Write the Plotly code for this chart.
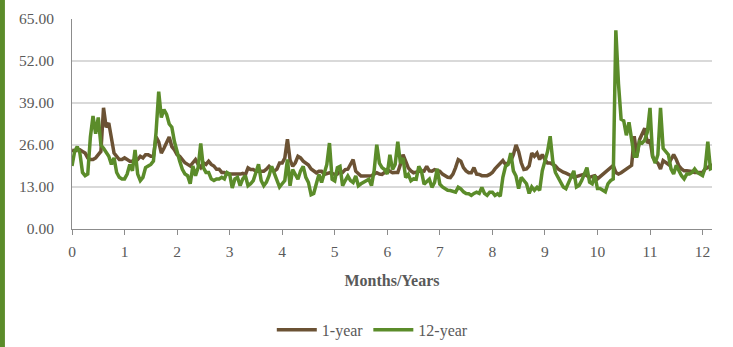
import numpy as np
import plotly.graph_objects as go

# Sampling step of the series (in years) and axis tick labels
STEP = 0.05
x_ticks = list(range(0, 13))
y_ticks = [0, 13, 26, 39, 52, 65]

# 1-year series, one row per year
one_year = [
    24.5, 24, 24.5, 24.5, 24, 23.5, 22, 21.5, 21.5, 22, 23, 24, 37.5, 31.5, 32.8, 28.7, 23.5, 22.5, 21.5, 21.5,
    22, 21.5, 21, 21, 21.5, 21.5, 22.5, 22, 23, 23, 22.5, 22.5, 28.5, 27, 23.5, 25, 27, 28.5, 25.5, 24.5,
    23, 22.5, 21.5, 20.5, 20, 19.5, 20.5, 21.5, 20, 19, 20.5, 20, 21, 20, 19.5, 18.5, 18.5, 17.5, 17.5, 17,
    17, 17, 16.8, 16.8, 17, 17.2, 16.8, 18.9, 18.4, 18.4, 17.9, 17.9, 18, 17.9, 18.5, 19.4, 18.5, 17.9, 18.5, 20.4,
    20.4, 22, 27.8, 21.4, 19.4, 20.5, 22.5, 22, 21, 20.4, 19.8, 18.6, 18, 17.4, 17.9, 17.9, 16.9, 17.2, 17.4, 17.2,
    16.9, 17, 17.9, 17.5, 18.4, 18.5, 19.9, 21.5, 17.9, 17, 16.4, 16.4, 16.4, 16.4, 16.5, 17, 17.4, 17, 16.9, 17.5,
    18.4, 17.9, 17.4, 17.5, 17.5, 20, 23, 21, 18.9, 18, 17.4, 17.6, 17.9, 18, 17.9, 19.4, 18, 17.9, 18.4, 18.2,
    17.9, 17, 16.4, 16, 15.9, 17, 19, 21.5, 21, 19, 18, 17.4, 17.4, 19, 17, 16.9, 16.5, 16.4, 16.5, 16.9,
    17.5, 18.6, 19.5, 20, 21.2, 20, 20.4, 21, 23, 26, 24, 20.5, 18.4, 18.6, 19.5, 23.5, 22.5, 23.5, 21.5, 23,
    21.5, 20.4, 20.4, 20, 19.5, 18.6, 18, 17.6, 17.3, 17, 16.5, 16, 16.2, 16.5, 16.8, 17, 16.5, 16, 16.3, 16.5,
    15.5, 16.2, 17, 17.8, 18.6, 19.2, 19.7, 17.5, 17, 17.4, 18, 18.6, 19.2, 19.7, 28.7, 22.5, 27.6, 29.5, 31.2, 26.6,
    27.6, 22.5, 21, 20.4, 18.6, 21.2, 20.5, 20, 21.5, 23, 21.5, 19.5, 18.6, 18, 18, 18, 17.8, 17.5, 17.5, 17.5,
    17.5, 18.6, 19, 19.7, 19.7,
]

# 12-year series, one row per year
twelve_year = [
    19.5, 24, 25.5, 23.5, 17.5, 16.5, 17, 28.5, 35, 29.5, 34.5, 26, 25, 23.5, 22.5, 20, 22, 17.5, 16, 15.5,
    15.5, 17, 20, 18, 24.5, 17, 15, 16, 19, 19.5, 20, 21, 30, 42.5, 34.5, 37, 35.5, 32.5, 31.5, 27,
    23.5, 21, 18.5, 17, 16.5, 14, 19.5, 16.5, 19, 26.5, 19, 17.5, 17.5, 15.5, 15, 15.5, 15.5, 16, 15.5, 17.5,
    17, 12.7, 15.5, 16, 13.4, 15.5, 16.5, 13.4, 14, 15, 17.5, 20, 15, 13.4, 14.5, 16.5, 19.4, 17, 15, 13,
    14, 15, 21.5, 13.4, 18.4, 17, 15.4, 18, 19.4, 16, 14.4, 10.6, 11, 14, 16.9, 14.4, 17.5, 20, 26.6, 15.4,
    14.9, 19, 19.4, 13.4, 15, 16.4, 15, 14.4, 16.4, 13.4, 14, 14.4, 15, 15.4, 13.4, 18, 26.1, 20.4, 19, 18.4,
    17, 23, 18.4, 20, 27, 20.4, 22, 15.9, 16.9, 14.9, 15.5, 15.4, 19.4, 17.9, 13.9, 14.5, 15.4, 12.9, 14.4, 18.6,
    13.9, 13, 12.4, 12, 11.9, 11.6, 11.4, 12.9, 12.4, 11.5, 11, 10.9, 10.4, 11, 11.4, 11, 12.9, 11, 10.4, 11.4,
    11.4, 10.4, 10.9, 10.1, 16, 19.4, 20, 23.5, 18, 16.4, 12.5, 16, 15, 14, 11, 13, 12, 12.9, 12, 18,
    21, 24, 28.7, 21, 17.5, 16, 14, 13, 12.5, 14.5, 16, 18, 13, 13.5, 15, 17, 19, 14.5, 14, 16.6,
    12.5, 12.5, 12, 11.5, 14, 15, 15.5, 61.5, 45, 34, 33.5, 29, 33, 27, 22.5, 22.5, 27, 26.6, 27.5, 30,
    37.5, 22.5, 20.4, 23, 37.5, 25, 24, 23, 18.6, 17, 19.7, 18, 16.5, 15.5, 17, 17, 17.5, 18.6, 17.5, 17,
    16.5, 19, 27, 18.6, 19,
]

x_vals = np.round(np.arange(len(one_year)) * STEP, 2)

BROWN = "#6B5234"
GREEN = "#5B8C2A"
SERIF = "Liberation Serif"

fig = go.Figure()
fig.add_trace(go.Scatter(x=x_vals, y=one_year, mode="lines", name="1-year",
                         line=dict(color=BROWN, width=3.5)))
fig.add_trace(go.Scatter(x=x_vals, y=twelve_year, mode="lines", name="12-year",
                         line=dict(color=GREEN, width=3.5)))

# Green accent strip along the left edge
fig.add_shape(type="rect", xref="paper", yref="paper",
              x0=-0.1126, x1=-0.1048, y0=-0.6, y1=1.1,
              fillcolor=GREEN, line=dict(width=0), layer="above")

fig.update_layout(
    width=733, height=347,
    margin=dict(l=72, r=21, t=19, b=118, autoexpand=False),
    paper_bgcolor="white", plot_bgcolor="white",
    font=dict(family=SERIF, color="#595959", size=15),
    showlegend=True,
    legend=dict(orientation="h", x=0.47, xanchor="center", y=-0.48, yanchor="middle",
                font=dict(family=SERIF, size=16, color="#595959"), itemwidth=40,
                traceorder="normal"),
    xaxis=dict(range=[0, 12.18], tickmode="array", tickvals=x_ticks, automargin=False,
               showgrid=False, zeroline=False, showline=True, linecolor="#8c8c8c", linewidth=1,
               ticks="outside", ticklen=5, tickcolor="#8c8c8c", ticklabelstandoff=3,
               tickfont=dict(family=SERIF, size=15.5, color="#595959"),
               title=dict(text="<b>Months/Years</b>", standoff=16,
                          font=dict(family=SERIF, size=16, color="#595959"))),
    yaxis=dict(range=[0, 65], tickmode="array", tickvals=y_ticks, tickformat=".2f",
               automargin=False,
               showgrid=True, gridcolor="#d9d9d9", gridwidth=1.5, zeroline=False,
               showline=True, linecolor="#8c8c8c", linewidth=1, ticks="",
               ticklabelstandoff=14,
               tickfont=dict(family=SERIF, size=15.5, color="#595959")),
)

fig.write_html("out.html")
